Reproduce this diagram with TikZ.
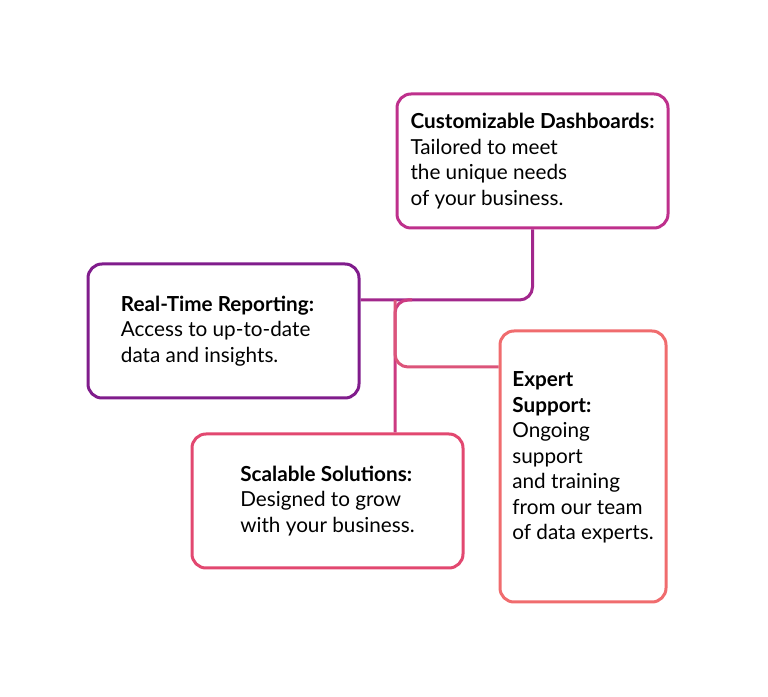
\documentclass[tikz,border=0pt]{standalone}
\usepackage{fontspec}
\setmainfont{Lato}
\usepackage{tikz}
\usetikzlibrary{calc,positioning}
\definecolor{mypurple}{RGB}{128,28,140}
\definecolor{mymagenta}{RGB}{190,48,140}
\definecolor{mypink}{RGB}{226,72,112}
\definecolor{mysalmon}{RGB}{240,108,110}

\begin{document}
\begin{tikzpicture}[
  x=1pt,y=1pt,
  mybox/.style={
    draw=#1,
    line width=3pt,
    rounded corners=14pt,
    minimum width=271pt,
    minimum height=134pt,
    align=left,
    inner sep=0pt,
    font=\fontsize{20.7}{25.5}\selectfont
    },
  myline/.style={
    draw=#1,
    line width=3pt,
    rounded corners=13pt
    }
]
\useasboundingbox (0,0) rectangle (768,696);

\node[mybox=mymagenta] (dash) at (532.5,535)
  {\textbf{Customizable Dashboards:}\\Tailored to meet\\the unique needs\\of your business.};
\node[mybox=mypurple] (report) at (223.5,365)
  {\textbf{Real-Time Reporting:}\hspace*{12pt}\\Access to up-to-date\\data and insights.};
\node[mybox=mypink] (scale) at (327.5,195)
  {\textbf{Scalable Solutions:}\\Designed to grow\\with your business.};
\node[mybox=mysalmon,minimum width=166pt,minimum height=271pt] (expert) at (583,229.5)
  {\textbf{Expert}\\\textbf{Support:}\\Ongoing\\support\\and training\\from our team\\of data experts.\\[-4pt]\mbox{}};

\coordinate (hub) at (395,396);
\coordinate (hubin) at (412,396);
\coordinate (tap) at (395,329);

% connectors
\draw[myline=mypurple!45!mymagenta] (report.east |- hub) -- (dash.south |- hub) -- (dash.south);
\draw[myline=mymagenta!60!mypink] (hubin) -- (hub) -- (hub |- scale.north);
\draw[myline=mymagenta!40!mysalmon] (hub) -- (tap) -- (tap -| expert.west);

\end{tikzpicture}
\end{document}
